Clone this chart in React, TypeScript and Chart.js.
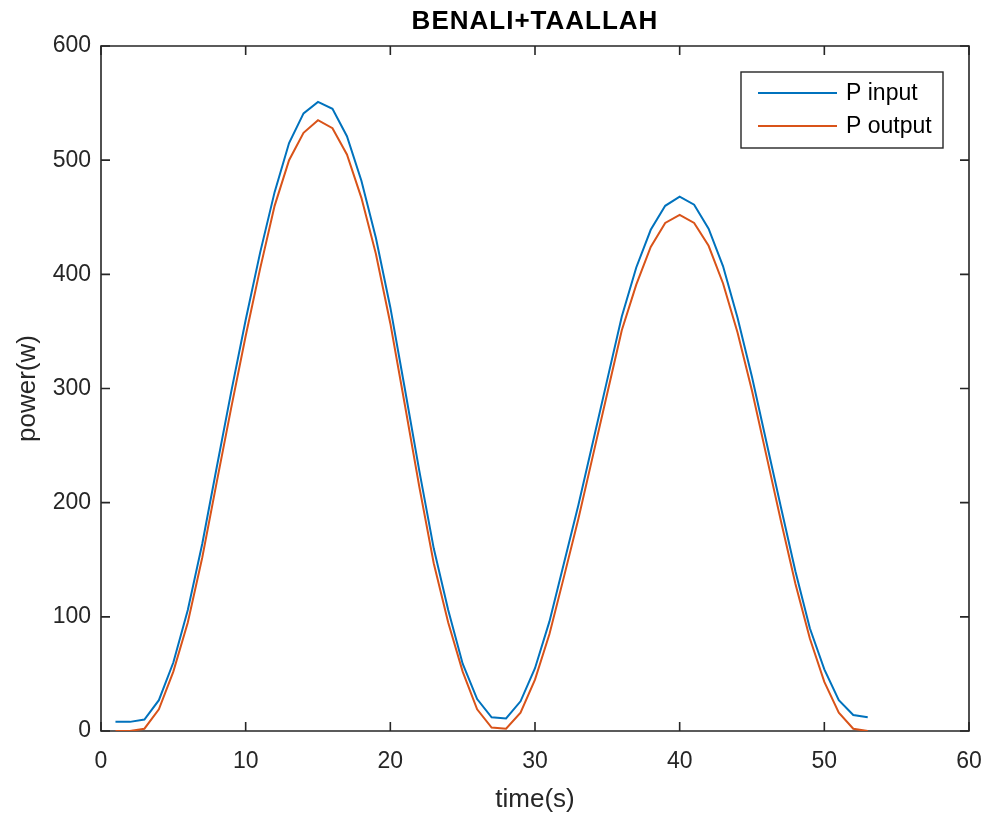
import React, { useEffect, useRef } from "react";
import { Chart, registerables } from "chart.js";

Chart.register(...registerables);

const TITLE = "BENALI+TAALLAH";
const X_LABEL = "time(s)";
const Y_LABEL = "power(w)";
const SERIES_NAMES = ["P input", "P output"];

const timeS = [
  1, 2, 3, 4, 5, 6, 7, 8, 9, 10, 11, 12, 13, 14, 15, 16, 17, 18, 19, 20,
  21, 22, 23, 24, 25, 26, 27, 28, 29, 30, 31, 32, 33, 34, 35, 36, 37, 38, 39, 40,
  41, 42, 43, 44, 45, 46, 47, 48, 49, 50, 51, 52, 53,
];

const pInput = [
  8, 8, 10, 27, 60, 106, 164, 231, 297, 360, 419, 472, 515, 541, 551, 545, 521, 482, 432, 371,
  300, 228, 160, 106, 59, 28, 12, 11, 26, 55, 96, 147, 198, 253, 308, 363, 406, 439, 460, 468,
  461, 440, 407, 362, 310, 253, 196, 140, 90, 54, 27, 14, 12,
];

const pOutput = [
  0, 0, 2, 19, 52, 95, 152, 218, 283, 346, 405, 460, 500, 524, 535, 528, 505, 467, 418, 357,
  286, 214, 147, 95, 52, 19, 3, 2, 16, 45, 85, 135, 186, 241, 296, 351, 391, 424, 445, 452,
  445, 425, 392, 349, 298, 241, 184, 129, 81, 43, 16, 2, 0,
];

const xTicks = [0, 10, 20, 30, 40, 50, 60];
const yTicks = [0, 100, 200, 300, 400, 500, 600];

const COLORS = ["#0072BD", "#D95319"];
const AXIS_COLOR = "#262626";
const FONT = "'Liberation Sans', Arial, Helvetica, sans-serif";

const boxPlugin = {
  id: "matlabBox",
  beforeDatasetsDraw(chart: any) {
    const { ctx, chartArea } = chart;
    const { left, right, top, bottom } = chartArea;
    const xs = chart.scales.x;
    const ys = chart.scales.y;
    const tl = 9;
    ctx.save();
    ctx.strokeStyle = AXIS_COLOR;
    ctx.lineWidth = 1.6;
    ctx.beginPath();
    ctx.rect(left, top, right - left, bottom - top);
    ctx.stroke();
    ctx.beginPath();
    xTicks.forEach((v) => {
      const px = xs.getPixelForValue(v);
      ctx.moveTo(px, bottom);
      ctx.lineTo(px, bottom - tl);
      ctx.moveTo(px, top);
      ctx.lineTo(px, top + tl);
    });
    yTicks.forEach((v) => {
      const py = ys.getPixelForValue(v);
      ctx.moveTo(left, py);
      ctx.lineTo(left + tl, py);
      ctx.moveTo(right, py);
      ctx.lineTo(right - tl, py);
    });
    ctx.stroke();
    ctx.restore();
  },
};

const titlePlugin = {
  id: "matlabTitle",
  afterDraw(chart: any) {
    const { ctx, chartArea } = chart;
    ctx.save();
    ctx.font = `bold 26px ${FONT}`;
    ctx.fillStyle = "#000000";
    ctx.textAlign = "center";
    ctx.textBaseline = "middle";
    try {
      (ctx as any).letterSpacing = "1px";
    } catch (e) {}
    ctx.fillText(TITLE, (chartArea.left + chartArea.right) / 2, 22);
    ctx.restore();
  },
};

const legendPlugin = {
  id: "matlabLegend",
  afterDraw(chart: any) {
    const { ctx, chartArea } = chart;
    const w = 202;
    const h = 76;
    const bx = chartArea.right - 26 - w;
    const by = chartArea.top + 26;
    ctx.save();
    ctx.fillStyle = "#ffffff";
    ctx.fillRect(bx, by, w, h);
    ctx.strokeStyle = AXIS_COLOR;
    ctx.lineWidth = 1.4;
    ctx.strokeRect(bx, by, w, h);
    chart.data.datasets.forEach((ds: any, i: number) => {
      const ly = by + 21 + i * 33;
      ctx.strokeStyle = ds.borderColor;
      ctx.lineWidth = 2;
      ctx.beginPath();
      ctx.moveTo(bx + 17, ly);
      ctx.lineTo(bx + 96, ly);
      ctx.stroke();
      ctx.fillStyle = "#000000";
      ctx.font = `23px ${FONT}`;
      ctx.textAlign = "left";
      ctx.textBaseline = "middle";
      ctx.fillText(ds.label, bx + 105, ly + 1);
    });
    ctx.restore();
  },
};

export default function App() {
  const canvasRef = useRef<HTMLCanvasElement | null>(null);

  useEffect(() => {
    const canvas = canvasRef.current;
    if (!canvas) return;
    const series = [pInput, pOutput];
    const chart = new Chart(canvas, {
      type: "line",
      data: {
        datasets: series.map((vals, i) => ({
          label: SERIES_NAMES[i],
          data: timeS.map((t, j) => ({ x: t, y: vals[j] })),
          borderColor: COLORS[i],
          backgroundColor: COLORS[i],
          borderWidth: 2,
          pointRadius: 0,
          tension: 0,
          fill: false,
        })),
      },
      options: {
        animation: false,
        responsive: false,
        devicePixelRatio: 1,
        layout: { padding: { left: 0, right: 17, top: 46, bottom: 0 } },
        plugins: {
          legend: { display: false },
          title: { display: false },
          tooltip: { enabled: false },
        },
        scales: {
          x: {
            type: "linear",
            min: 0,
            max: 60,
            afterBuildTicks: (scale: any) => {
              scale.ticks = xTicks.map((v) => ({ value: v }));
            },
            afterFit: (scale: any) => {
              scale.height = 85;
              scale.paddingLeft = 0;
              scale.paddingRight = 0;
            },
            grid: { display: false, drawTicks: false },
            border: { display: false },
            ticks: {
              padding: 17,
              color: AXIS_COLOR,
              font: { family: FONT, size: 23 },
              maxRotation: 0,
              autoSkip: false,
            },
            title: {
              display: true,
              text: X_LABEL,
              color: AXIS_COLOR,
              font: { family: FONT, size: 26 },
              padding: { top: 0, bottom: 1 },
            },
          },
          y: {
            type: "linear",
            min: 0,
            max: 600,
            afterBuildTicks: (scale: any) => {
              scale.ticks = yTicks.map((v) => ({ value: v }));
            },
            afterFit: (scale: any) => {
              scale.width = 101;
              scale.paddingTop = 0;
              scale.paddingBottom = 0;
            },
            grid: { display: false, drawTicks: false },
            border: { display: false },
            ticks: {
              padding: 10,
              color: AXIS_COLOR,
              font: { family: FONT, size: 23 },
              autoSkip: false,
            },
            title: {
              display: true,
              text: Y_LABEL,
              color: AXIS_COLOR,
              font: { family: FONT, size: 26 },
              padding: { top: 12, bottom: 0 },
            },
          },
        },
      },
      plugins: [boxPlugin, titlePlugin, legendPlugin],
    });
    return () => chart.destroy();
  }, []);

  return (
    <div
      style={{
        position: "fixed",
        left: 0,
        top: 0,
        width: 986,
        height: 816,
        background: "#ffffff",
      }}
    >
      <canvas ref={canvasRef} width={986} height={816} />
    </div>
  );
}
